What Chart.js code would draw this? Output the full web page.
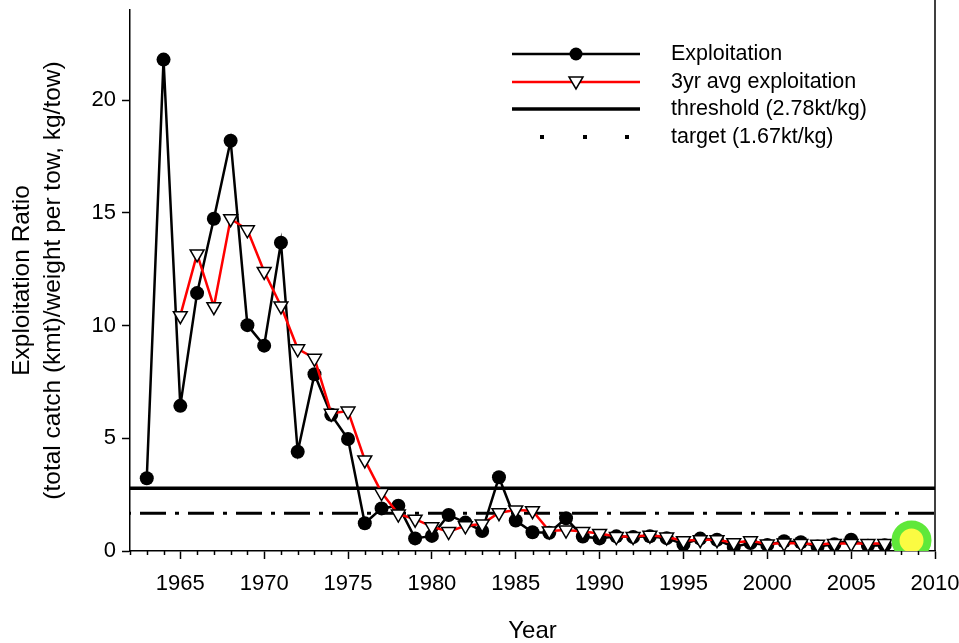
<!DOCTYPE html>
<html>
<head>
<meta charset="utf-8">
<script src="https://cdn.jsdelivr.net/npm/chart.js@4"></script>
<style>
  html, body { margin: 0; padding: 0; background: #fff; }
  #wrap { width: 959px; height: 643px; }
</style>
</head>
<body>
<div id="wrap"><canvas id="chart" width="959" height="643"></canvas></div>
<script>
// years for exploitation series
const expYears = [1963, 1964, 1965, 1966, 1967, 1968, 1969, 1970, 1971, 1972,
  1973, 1974, 1975, 1976, 1977, 1978, 1979, 1980, 1981, 1982,
  1983, 1984, 1985, 1986, 1987, 1988, 1989, 1990, 1991, 1992,
  1993, 1994, 1995, 1996, 1997, 1998, 1999, 2000, 2001, 2002,
  2003, 2004, 2005, 2006, 2007];
const exploitation = [3.23, 21.8, 6.44, 11.44, 14.74, 18.2, 10.02, 9.11, 13.68, 4.4,
  7.84, 6.04, 4.97, 1.23, 1.89, 2.01, 0.56, 0.67, 1.6, 1.26,
  0.89, 3.27, 1.35, 0.83, 0.81, 1.45, 0.64, 0.56, 0.65, 0.62,
  0.65, 0.57, 0.3, 0.55, 0.5, 0.18, 0.35, 0.27, 0.43, 0.39,
  0.2, 0.3, 0.5, 0.23, 0.26];

// 3yr avg starts in 1965
const avgYears = expYears.slice(2);
const avg3 = [10.44, 13.18, 10.84, 14.74, 14.25, 12.4, 10.87, 8.97, 8.55,
  6.11, 6.21, 4.04, 2.59, 1.64, 1.41, 1.08, 0.86, 1.12, 1.2,
  1.7, 1.82, 1.79, 0.89, 0.93, 0.86, 0.78, 0.64, 0.64, 0.7,
  0.62, 0.46, 0.5, 0.5, 0.37, 0.45, 0.31, 0.35, 0.33, 0.3,
  0.33, 0.33, 0.33, 0.33];

// current year highlight
const currentYear = [2008.6];
const currentValue = [0.47];

const threshold = 2.78;
const target = 1.67;
const xRange = [1962, 2010];
const yRange = [0, 24];
const yTicks = [0, 5, 10, 15, 20];

const legendLabels = ["Exploitation", "3yr avg exploitation", "threshold (2.78kt/kg)", "target (1.67kt/kg)"];

const FONT = "'Liberation Sans', Arial, sans-serif";

function toPoints(xs, ys) {
  return xs.map((x, i) => ({ x: x, y: ys[i] }));
}

// minor ticks, right frame line and the legend
const extrasPlugin = {
  id: "extras",
  afterDraw(chart) {
    const ctx = chart.ctx;
    const area = chart.chartArea;
    const xs = chart.scales.x;
    ctx.save();
    ctx.strokeStyle = "#000";
    ctx.lineWidth = 1.5;
    for (let yr = xRange[0]; yr <= xRange[1]; yr++) {
      if (yr % 5 === 0) continue;
      const px = Math.round(xs.getPixelForValue(yr)) + 0.5;
      ctx.beginPath();
      ctx.moveTo(px, area.bottom);
      ctx.lineTo(px, area.bottom + 4);
      ctx.stroke();
    }
    // right frame
    ctx.beginPath();
    ctx.moveTo(area.right, 0);
    ctx.lineTo(area.right, area.bottom);
    ctx.stroke();

    // legend
    const x0 = 512, x1 = 640, xm = 576, xt = 671;
    const rows = [54, 82, 109, 137];
    ctx.font = "21.5px " + FONT;
    ctx.fillStyle = "#000";
    ctx.textBaseline = "middle";
    ctx.textAlign = "left";
    legendLabels.forEach((t, i) => ctx.fillText(t, xt, rows[i]));

    ctx.lineWidth = 2.5;
    ctx.strokeStyle = "#000";
    ctx.beginPath(); ctx.moveTo(x0, rows[0]); ctx.lineTo(x1, rows[0]); ctx.stroke();
    ctx.beginPath(); ctx.arc(xm, rows[0], 6.5, 0, Math.PI * 2); ctx.fill();

    ctx.strokeStyle = "#ff0000";
    ctx.beginPath(); ctx.moveTo(x0, rows[1]); ctx.lineTo(x1, rows[1]); ctx.stroke();
    ctx.strokeStyle = "#000";
    ctx.fillStyle = "#fff";
    ctx.lineWidth = 1.5;
    ctx.beginPath();
    ctx.moveTo(xm - 7, rows[1] - 5);
    ctx.lineTo(xm + 7, rows[1] - 5);
    ctx.lineTo(xm, rows[1] + 7);
    ctx.closePath();
    ctx.fill(); ctx.stroke();

    ctx.lineWidth = 3.5;
    ctx.beginPath(); ctx.moveTo(x0, rows[2]); ctx.lineTo(x1, rows[2]); ctx.stroke();

    ctx.fillStyle = "#000";
    [542, 585, 627].forEach(dx => ctx.fillRect(dx - 2, rows[3] - 2, 4, 4));
    ctx.restore();
  }
};

new Chart(document.getElementById("chart"), {
  type: "scatter",
  data: {
    datasets: [
      {
        label: "current",
        data: toPoints(currentYear, currentValue),
        pointStyle: "circle",
        pointRadius: 16,
        pointBorderWidth: 8,
        pointBackgroundColor: "#fbfb42",
        pointBorderColor: "#5fe83a",
        showLine: false,
        order: 0
      },
      {
        label: legendLabels[1],
        data: toPoints(avgYears, avg3),
        showLine: true,
        borderColor: "#ff0000",
        borderWidth: 2.5,
        pointStyle: "triangle",
        rotation: 180,
        pointRadius: 8,
        pointBorderWidth: 1.5,
        pointBackgroundColor: "#fff",
        pointBorderColor: "#000",
        order: 1
      },
      {
        label: legendLabels[0],
        data: toPoints(expYears, exploitation),
        showLine: true,
        borderColor: "#000",
        borderWidth: 2.5,
        pointStyle: "circle",
        pointRadius: 7,
        pointBorderWidth: 0,
        pointBackgroundColor: "#000",
        order: 2
      },
      {
        label: legendLabels[2],
        data: toPoints(xRange, [threshold, threshold]),
        showLine: true,
        borderColor: "#000",
        borderWidth: 3.5,
        pointRadius: 0,
        order: 3
      },
      {
        label: legendLabels[3],
        data: toPoints(xRange, [target, target]),
        showLine: true,
        borderColor: "#000",
        borderWidth: 3,
        borderDash: [26, 9, 4, 9],
        borderDashOffset: -10,
        pointRadius: 0,
        order: 4
      }
    ]
  },
  options: {
    responsive: false,
    animation: false,
    layout: { autoPadding: false, padding: { top: 10, right: 24, left: 0, bottom: 0 } },
    plugins: {
      legend: { display: false },
      tooltip: { enabled: false }
    },
    scales: {
      x: {
        type: "linear",
        min: xRange[0],
        max: xRange[1],
        afterFit(scale) {
          scale.height = 92;
          scale.paddingLeft = 0;
          scale.paddingRight = 0;
        },
        border: { display: true, color: "#000", width: 1.5 },
        grid: {
          drawOnChartArea: false,
          drawTicks: true,
          tickLength: 8,
          tickWidth: 1.5,
          tickColor: (c) => (c.tick && c.tick.value % 5 === 0) ? "#000" : "rgba(0,0,0,0)"
        },
        ticks: {
          stepSize: 1,
          autoSkip: false,
          maxRotation: 0,
          includeBounds: false,
          padding: 12,
          color: "#000",
          font: { family: FONT, size: 22 },
          callback: (v) => (v % 5 === 0 ? String(v) : "")
        },
        title: {
          display: true,
          text: "Year",
          color: "#000",
          font: { family: FONT, size: 24, lineHeight: 1.0 },
          padding: { top: 0, bottom: 0 }
        }
      },
      y: {
        type: "linear",
        min: yRange[0],
        max: yRange[1],
        afterFit(scale) {
          scale.width = 130;
          scale.paddingTop = 0;
          scale.paddingBottom = 0;
        },
        afterBuildTicks(scale) { scale.ticks = yTicks.map(v => ({ value: v })); },
        border: { display: true, color: "#000", width: 1.5 },
        grid: {
          drawOnChartArea: false,
          drawTicks: true,
          tickLength: 8,
          tickWidth: 1.5,
          tickColor: "#000"
        },
        ticks: {
          padding: 6,
          color: "#000",
          font: { family: FONT, size: 22 }
        },
        title: {
          display: true,
          text: ["Exploitation Ratio", "(total catch (kmt)/weight per tow, kg/tow)"],
          color: "#000",
          font: { family: FONT, size: 24.5, lineHeight: 1.265 },
          padding: { top: 6.5, bottom: 0 }
        }
      }
    }
  },
  plugins: [extrasPlugin]
});
</script>
</body>
</html>
